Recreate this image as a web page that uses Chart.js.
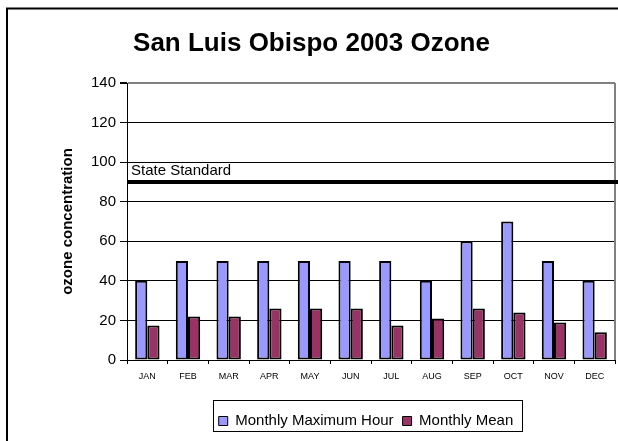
<!DOCTYPE html>
<html>
  <head>
    <script src="https://cdn.jsdelivr.net/npm/chart.js@4"></script>
    <style>
      body { margin: 0; background: #fff; }
      #wrap { width: 618px; height: 441px; position: relative; }
    </style>
  </head>
  <body>
    <div id="wrap">
      <canvas id="canvas"></canvas>
    </div>
    <script>
      const months = ['JAN', 'FEB', 'MAR', 'APR', 'MAY', 'JUN', 'JUL', 'AUG', 'SEP', 'OCT', 'NOV', 'DEC'];
      const monthlyMaxHour = [40, 50, 50, 50, 50, 50, 50, 40, 60, 70, 50, 40];
      const monthlyMean = [17.5, 22, 22, 26, 26, 26, 17.5, 21, 26, 24, 19, 14];
      const stateStandard = 90;
      const stateStandardLabel = 'State Standard';

      const FONT = 'Arial, "Liberation Sans", sans-serif';

      // frame, right edge of the plot, state standard line, legend box
      const decorations = {
        id: 'decorations',
        afterLayout(chart) {
          const area = chart.chartArea;
          chart.legend.left = area.left - 5;
          chart.legend.right = area.right - 5;
        },
        beforeDraw(chart) {
          const ctx = chart.ctx;
          ctx.save();
          ctx.fillStyle = '#fff';
          ctx.fillRect(0, 0, chart.width, chart.height);
          ctx.restore();
        },
        afterDraw(chart) {
          const ctx = chart.ctx;
          const area = chart.chartArea;
          const y = chart.scales.y.getPixelForValue(stateStandard);
          ctx.save();
          // outer frame (top and left only)
          ctx.strokeStyle = '#000';
          ctx.lineWidth = 2;
          ctx.beginPath();
          ctx.moveTo(7, chart.height);
          ctx.lineTo(7, 8.5);
          ctx.lineTo(chart.width, 8.5);
          ctx.stroke();
          // right plot edge
          ctx.strokeStyle = '#808080';
          ctx.lineWidth = 2;
          ctx.beginPath();
          ctx.moveTo(area.right, area.top);
          ctx.lineTo(area.right, area.bottom);
          ctx.stroke();
          // state standard
          ctx.strokeStyle = '#000';
          ctx.lineWidth = 4;
          ctx.beginPath();
          ctx.moveTo(area.left, y);
          ctx.lineTo(chart.width, y);
          ctx.stroke();
          ctx.fillStyle = '#000';
          ctx.font = '15px ' + FONT;
          ctx.textAlign = 'left';
          ctx.textBaseline = 'middle';
          ctx.fillText(stateStandardLabel, area.left + 4, y - 11);
          // legend border
          const boxes = chart.legend.legendHitBoxes;
          if (boxes && boxes.length) {
            const l = Math.min(...boxes.map((b) => b.left));
            const r = Math.max(...boxes.map((b) => b.left + b.width));
            const t = boxes[0].top;
            ctx.strokeStyle = '#000';
            ctx.lineWidth = 1;
            ctx.strokeRect(Math.round(l - 6) + 0.5, Math.round(t - 14) + 0.5, Math.round(r - l + 14), 31);
          }
          ctx.restore();
        },
      };

      new Chart(document.getElementById('canvas'), {
        type: 'bar',
        data: {
          labels: months,
          datasets: [
            {
              label: 'Monthly Maximum Hour',
              data: monthlyMaxHour,
              backgroundColor: '#9999FF',
              borderColor: '#000',
              borderWidth: 2,
              borderSkipped: false,
            },
            {
              label: 'Monthly Mean',
              data: monthlyMean,
              backgroundColor: '#993366',
              borderColor: '#000',
              borderWidth: 2,
              borderSkipped: false,
            },
          ],
        },
        options: {
          responsive: true,
          maintainAspectRatio: false,
          animation: false,
          datasets: {
            bar: { categoryPercentage: 0.6, barPercentage: 1.0 },
          },
          layout: {
            padding: { left: 8, right: 3, top: 0, bottom: 2.5 },
          },
          plugins: {
            tooltip: { enabled: false },
            title: {
              display: true,
              text: 'San Luis Obispo 2003 Ozone',
              color: '#000',
              font: { family: FONT, size: 26, weight: 'bold' },
              padding: { top: 28, bottom: 23.8 },
            },
            legend: {
              position: 'bottom',
              labels: {
                color: '#000',
                font: { family: FONT, size: 15 },
                boxWidth: 9,
                boxHeight: 9,
                padding: 9,
                generateLabels(chart) {
                  return chart.data.datasets.map((ds, i) => ({
                    text: ds.label,
                    fillStyle: ds.backgroundColor,
                    strokeStyle: '#000',
                    lineWidth: 1,
                    datasetIndex: i,
                    fontColor: '#000',
                  }));
                },
              },
            },
          },
          scales: {
            x: {
              afterFit(scale) {
                scale.height = 44.5;
              },
              grid: {
                offset: true,
                drawOnChartArea: false,
                drawTicks: true,
                tickLength: 4,
                tickColor: '#000',
              },
              border: { color: '#000', width: 1 },
              ticks: {
                color: '#000',
                font: { family: FONT, size: 9 },
                padding: 7,
                maxRotation: 0,
              },
            },
            y: {
              min: 0,
              max: 140,
              afterFit(scale) {
                scale.width = 119;
              },
              ticks: {
                stepSize: 20,
                color: '#000',
                font: { family: FONT, size: 15 },
                padding: 4,
              },
              grid: {
                color: (c) => (c.tick && c.tick.value === 140 ? '#808080' : '#000'),
                lineWidth: (c) => (c.tick && c.tick.value === 140 ? 2 : 1),
                tickLength: 7,
                tickColor: '#000',
              },
              border: { color: '#000', width: 1 },
              title: {
                display: true,
                text: 'ozone concentration',
                color: '#000',
                font: { family: FONT, size: 15, weight: 'bold' },
                padding: { top: 51, bottom: 0 },
              },
            },
          },
        },
        plugins: [decorations],
      });
    </script>
  </body>
</html>
